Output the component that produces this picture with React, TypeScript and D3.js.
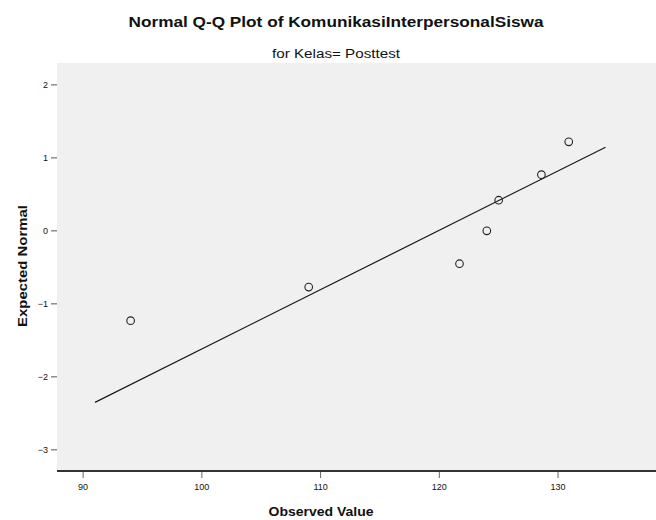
import React, { useEffect, useRef } from 'react';
import * as d3 from 'd3';

const observed = [94, 109, 121.7, 124, 125, 128.6, 130.9];
const expected = [-1.23, -0.77, -0.45, 0, 0.42, 0.77, 1.22];

const xTicks = [90, 100, 110, 120, 130];
const yTicks = [2, 1, 0, -1, -2, -3];

// normal reference line: z = (x - mean) / sd, over this x range
const lineRange = [91, 134];
const lineMean = 119.9;
const lineSd = 12.3;

const title = 'Normal Q-Q Plot of KomunikasiInterpersonalSiswa';
const subtitle = 'for Kelas= Posttest';
const xTitle = 'Observed Value';
const yTitle = 'Expected Normal';

const App = () => {
  const svgRef = useRef<SVGSVGElement | null>(null);
  const width = 656;
  const height = 520;
  const FONT = '"Liberation Sans", Arial, sans-serif';

  useEffect(() => {
    if (!svgRef.current) return;
    const svg = d3.select(svgRef.current);
    svg.selectAll('*').remove();

    const left = 57;
    const right = 656;
    const top = 63;
    const bottom = 471;

    const x = d3.scaleLinear().domain([87.8, 138.25]).range([left, right]);
    const y = d3.scaleLinear().domain([-3.29, 2.3]).range([bottom, top]);

    // 背景
    svg.append('rect')
      .attr('x', left)
      .attr('y', top)
      .attr('width', right - left)
      .attr('height', bottom - top)
      .attr('fill', '#f0f0f0');

    // titles (the original font is wide, so stretch to its measured width)
    svg.append('text')
      .attr('x', 336)
      .attr('y', 27)
      .attr('text-anchor', 'middle')
      .attr('font-family', FONT)
      .attr('font-size', 14)
      .attr('font-weight', 'bold')
      .attr('fill', '#111')
      .attr('textLength', 415)
      .attr('lengthAdjust', 'spacingAndGlyphs')
      .text(title);

    svg.append('text')
      .attr('x', 336)
      .attr('y', 58)
      .attr('text-anchor', 'middle')
      .attr('font-family', FONT)
      .attr('font-size', 12)
      .attr('fill', '#111')
      .attr('textLength', 128)
      .attr('lengthAdjust', 'spacingAndGlyphs')
      .text(subtitle);

    // y ticks
    yTicks.forEach(t => {
      svg.append('line')
        .attr('x1', left - 6)
        .attr('x2', left)
        .attr('y1', y(t))
        .attr('y2', y(t))
        .attr('stroke', '#555')
        .attr('stroke-width', 1);
      svg.append('text')
        .attr('x', left - 9)
        .attr('y', y(t))
        .attr('dy', '0.35em')
        .attr('text-anchor', 'end')
        .attr('font-family', FONT)
        .attr('font-size', 9)
        .attr('fill', '#111')
        .text(d3.format('d')(t));
    });

    // x axis
    svg.append('line')
      .attr('x1', left)
      .attr('x2', right)
      .attr('y1', bottom)
      .attr('y2', bottom)
      .attr('stroke', '#333')
      .attr('stroke-width', 2);

    xTicks.forEach(t => {
      svg.append('line')
        .attr('x1', x(t))
        .attr('x2', x(t))
        .attr('y1', bottom + 1)
        .attr('y2', bottom + 7)
        .attr('stroke', '#666')
        .attr('stroke-width', 1);
      svg.append('text')
        .attr('x', x(t))
        .attr('y', bottom + 19)
        .attr('text-anchor', 'middle')
        .attr('font-family', FONT)
        .attr('font-size', 9)
        .attr('fill', '#111')
        .text(t);
    });

    // axis titles
    svg.append('text')
      .attr('x', 321)
      .attr('y', 516)
      .attr('text-anchor', 'middle')
      .attr('font-family', FONT)
      .attr('font-size', 13)
      .attr('font-weight', 'bold')
      .attr('fill', '#111')
      .attr('textLength', 105)
      .attr('lengthAdjust', 'spacingAndGlyphs')
      .text(xTitle);

    svg.append('text')
      .attr('transform', `translate(27, 266) rotate(-90)`)
      .attr('text-anchor', 'middle')
      .attr('font-family', FONT)
      .attr('font-size', 13)
      .attr('font-weight', 'bold')
      .attr('fill', '#111')
      .attr('textLength', 122)
      .attr('lengthAdjust', 'spacingAndGlyphs')
      .text(yTitle);

    // reference line
    const lineData = lineRange.map(v => [v, (v - lineMean) / lineSd] as [number, number]);
    svg.append('path')
      .attr('d', d3.line<[number, number]>().x(d => x(d[0])).y(d => y(d[1]))(lineData))
      .attr('fill', 'none')
      .attr('stroke', '#1a1a1a')
      .attr('stroke-width', 1.2);

    // points
    observed.forEach((v, i) => {
      svg.append('circle')
        .attr('cx', x(v))
        .attr('cy', y(expected[i]))
        .attr('r', 3.8)
        .attr('fill', 'none')
        .attr('stroke', '#222')
        .attr('stroke-width', 1.1);
    });
  }, []);

  return (
    <svg
      ref={svgRef}
      width={width}
      height={height}
      style={{ position: 'absolute', left: 0, top: 0, background: '#fff', display: 'block' }}
    />
  );
};

export default App;
